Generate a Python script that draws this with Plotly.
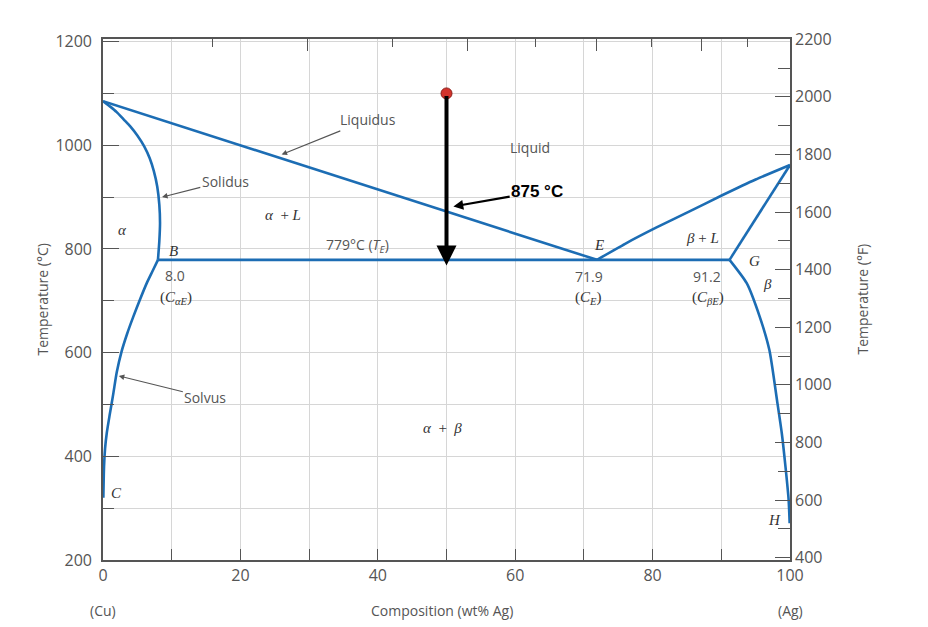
import plotly.graph_objects as go

# ---------------- data (wt% Ag, °C) ----------------
liq_AE_x = [0, 71.9]
liq_AE_T = [1085, 779]
liq_EF_x = [71.9, 76, 80.5, 85.3, 90.2, 95, 100]
liq_EF_T = [779, 810, 841, 872, 904, 934, 962]
sol_AB_x = [0, 1, 2, 3, 4, 5, 6, 6.8, 7.4, 7.9, 8.2, 8.3, 8.2, 8.0]
sol_AB_T = [1085, 1075, 1064, 1050, 1036, 1019, 998, 975, 950, 920, 885, 850, 815, 779]
solv_BC_x = [8.0, 7.2, 6.4, 5.4, 4.4, 3.5, 2.7, 2.0, 1.5, 1.0, 0.55, 0.3, 0.15, 0.05]
solv_BC_T = [779, 757, 735, 703, 669, 636, 602, 562, 521, 482, 445, 415, 380, 320]
sol_GF_x = [91.2, 100]
sol_GF_T = [779, 962]
solv_GH_x = [91.2, 93.7, 95.6, 97.0, 98.1, 98.8, 99.35, 99.8, 99.95]
solv_GH_T = [779, 734, 669, 605, 509, 445, 379, 316, 271]
eut_x = [8.0, 91.2]
eut_T = [779, 779]

alloy_x = 50
alloy_T_start = 1098
alloy_T_end = 768
mark_T = 875

x_ticks = [0, 20, 40, 60, 80, 100]
c_ticks = [200, 400, 600, 800, 1000, 1200]
f_ticks = [400, 600, 800, 1000, 1200, 1400, 1600, 1800, 2000, 2200]
at_major = [20, 40, 60, 80]
at_minor = [10, 30, 50, 70, 90]

M_AG, M_CU = 107.87, 63.55


def at_to_wt(a):
    return 100 * a * M_AG / (a * M_AG + (100 - a) * M_CU)


BLUE = "#1c6db4"
GRAY = "#555555"
GRID = "#d6d6d6"
SANS = "Open Sans, Liberation Sans, Arial, sans-serif"
SERIF = "Liberation Serif, Times New Roman, serif"

fig = go.Figure()

for xs, ts, shape in [
    (liq_AE_x, liq_AE_T, "linear"),
    (liq_EF_x, liq_EF_T, "spline"),
    (sol_AB_x, sol_AB_T, "spline"),
    (solv_BC_x, solv_BC_T, "spline"),
    (sol_GF_x, sol_GF_T, "linear"),
    (solv_GH_x, solv_GH_T, "spline"),
    (eut_x, eut_T, "linear"),
]:
    fig.add_trace(go.Scatter(x=xs, y=ts, mode="lines",
                             line=dict(color=BLUE, width=2.6, shape=shape, smoothing=0.6),
                             showlegend=False, hoverinfo="skip"))

# dummy traces so the °F axis and the top axis are drawn
fig.add_trace(go.Scatter(x=[None], y=[None], yaxis="y2", showlegend=False))
fig.add_trace(go.Scatter(x=[None], y=[None], xaxis="x2", showlegend=False))

ann = []
# vertical cooling arrow
ann.append(dict(x=alloy_x, y=alloy_T_end, ax=alloy_x, ay=alloy_T_start,
                xref="x", yref="y", axref="x", ayref="y", text="",
                showarrow=True, arrowhead=2, arrowsize=1.0, arrowwidth=4,
                arrowcolor="black"))


def label(x, y, text, family=SANS, size=14, color=GRAY, **kw):
    ann.append(dict(x=x, y=y, xref="x", yref="y", text=text, showarrow=False,
                    font=dict(family=family, size=size, color=color), **kw))


def pointer(tx, ty, lx, ly, text, color=GRAY, width=1.1, size=14, bold=False, family=SANS):
    ann.append(dict(x=tx, y=ty, ax=lx, ay=ly, xref="x", yref="y", axref="x", ayref="y",
                    text=("<b>%s</b>" % text) if bold else text, showarrow=True,
                    arrowhead=2, arrowsize=1 if not bold else 0.9, arrowwidth=width,
                    arrowcolor=color, standoff=0,
                    font=dict(family=family, size=size, color=color)))


pointer(26.0, 982, 38.5, 1049, "Liquidus")
pointer(8.6, 900, 17.8, 931, "Solidus")
pointer(2.3, 555, 14.9, 514, "Solvus")
pointer(51.0, 882, 63.2, 910, "875 °C", color="black", width=2.2, size=17, bold=True,
        family="Liberation Sans, Arial, sans-serif")

label(62.2, 996, "Liquid")
label(26.2, 866, "<i>α</i>  + <i>L</i>", family=SERIF, size=15, color="#333")
label(2.9, 836, "<i>α</i>", family=SERIF, size=15, color="#333")
label(10.2, 797, "<i>B</i>", family=SERIF, size=15, color="#333")
label(10.5, 748, "8.0", size=14)
label(10.6, 706, "(<i>C</i><sub><i>αE</i></sub>)", family=SERIF, size=15, color="#333")
label(37.1, 807, "779°C (<i>T</i><sub><i>E</i></sub>)", family=SANS, size=14)
label(72.2, 807, "<i>E</i>", family=SERIF, size=15, color="#333")
label(70.8, 746, "71.9", size=14)
label(70.6, 706, "(<i>C</i><sub><i>E</i></sub>)", family=SERIF, size=15, color="#333")
label(87.2, 822, "<i>β</i> + <i>L</i>", family=SERIF, size=15, color="#333")
label(94.8, 776, "<i>G</i>", family=SERIF, size=15, color="#333")
label(96.7, 733, "<i>β</i>", family=SERIF, size=15, color="#333")
label(87.9, 746, "91.2", size=14)
label(88.1, 705, "(<i>C</i><sub><i>βE</i></sub>)", family=SERIF, size=15, color="#333")
label(102.3, 932, "<i>F</i>", family=SERIF, size=15, color="#333")
label(97.7, 277, "<i>H</i>", family=SERIF, size=15, color="#333")
label(1.9, 329, "<i>C</i>", family=SERIF, size=15, color="#333")
label(-2.0, 1087, "<i>A</i>", family=SERIF, size=15, color="#333")
label(49.4, 455, "<i>α</i>  +  <i>β</i>", family=SERIF, size=15, color="#333")

# axis titles / end labels (paper coords)
for x, t in [((42 - 103) / 687, "Temperature (°C)"), ((862 - 103) / 687, "Temperature (°F)")]:
    ann.append(dict(x=x, y=0.5, xref="paper", yref="paper", text=t, textangle=-90,
                    xanchor="center", yanchor="middle", showarrow=False,
                    font=dict(family=SANS, size=14, color=GRAY)))
for x, t in [(0.0, "(Cu)"), (0.494, "Composition (wt% Ag)"), (1.0, "(Ag)")]:
    ann.append(dict(x=x, y=-0.096, xref="paper", yref="paper", text=t, showarrow=False,
                    xanchor="center", yanchor="middle",
                    font=dict(family=SANS, size=14, color=GRAY)))

# red starting point
fig.add_trace(go.Scatter(x=[alloy_x], y=[alloy_T_start + 2], mode="markers",
                         marker=dict(size=11, color="#d3322b",
                                     line=dict(color="#8a1c17", width=1)),
                         showlegend=False, hoverinfo="skip"))

c_lo, c_hi = 200, 1205
fig.update_layout(
    width=928, height=627,
    margin=dict(l=103, r=138, t=39, b=67),
    paper_bgcolor="white", plot_bgcolor="white",
    annotations=ann,
    xaxis=dict(range=[0, 100], tickvals=x_ticks, ticks="inside", ticklen=0,
               showgrid=True, gridcolor=GRID, gridwidth=1,
               minor=dict(dtick=10, tick0=0, showgrid=True, gridcolor=GRID,
                          ticks="inside", ticklen=11, tickcolor=GRAY, tickwidth=1.3),
               showline=True, linecolor=GRAY, linewidth=1.6, mirror=True,
               zeroline=False, tickfont=dict(family=SANS, size=16, color=GRAY)),
    xaxis2=dict(range=[0, 100], overlaying="x", side="top", showgrid=False,
                tickvals=[at_to_wt(a) for a in at_major], showticklabels=False,
                ticks="inside", ticklen=12, tickcolor=GRAY, tickwidth=1.3,
                minor=dict(tickvals=[at_to_wt(a) for a in at_minor], ticks="inside",
                           ticklen=8, tickcolor=GRAY, tickwidth=1.3, showgrid=False),
                showline=False, zeroline=False),
    yaxis=dict(range=[c_lo, c_hi], tickvals=c_ticks, ticks="inside", ticklen=16,
               tickcolor=GRAY, tickwidth=1.3, ticklabelstandoff=6,
               showgrid=True, gridcolor=GRID, gridwidth=1,
               minor=dict(dtick=100, tick0=200, showgrid=True, gridcolor=GRID,
                          ticks="inside", ticklen=11, tickcolor=GRAY, tickwidth=1.3),
               showline=True, linecolor=GRAY, linewidth=1.6, mirror=True,
               zeroline=False, tickfont=dict(family=SANS, size=16, color=GRAY)),
    yaxis2=dict(range=[c_lo * 9 / 5 + 32, c_hi * 9 / 5 + 32], overlaying="y", side="right",
                tickvals=f_ticks, ticks="inside", ticklen=15, tickcolor=GRAY, tickwidth=1.3,
                minor=dict(dtick=100, tick0=400, ticks="inside", ticklen=12,
                           tickcolor=GRAY, tickwidth=1.3, showgrid=False),
                showgrid=False, showline=True, linecolor=GRAY, linewidth=1.6,
                zeroline=False, tickfont=dict(family=SANS, size=16, color=GRAY)),
)

fig.write_html("out.html")
